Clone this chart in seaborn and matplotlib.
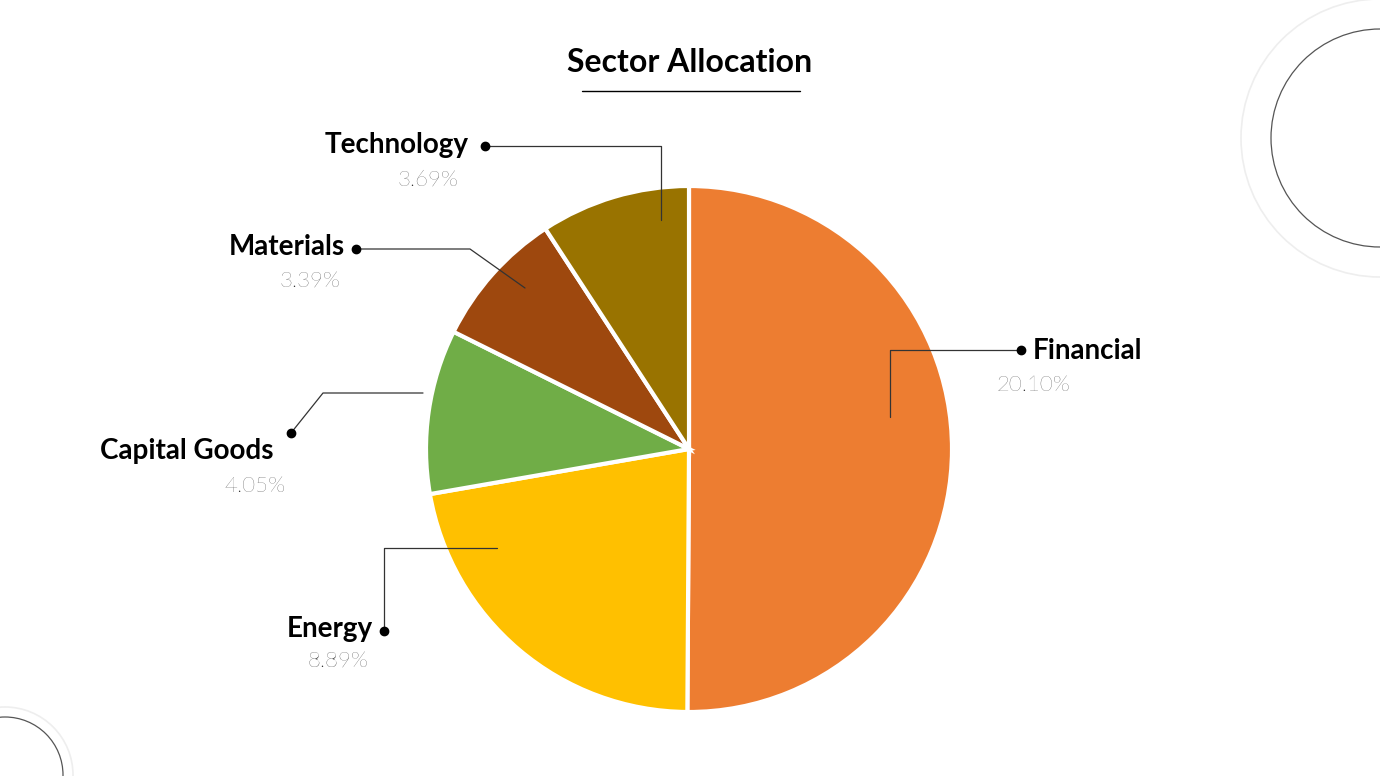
import matplotlib
matplotlib.use("Agg")
import matplotlib.pyplot as plt
import seaborn as sns
from matplotlib.patches import Circle
import numpy as np

categories = ["Financial", "Energy", "Capital Goods", "Materials", "Technology"]
values = [20.10, 8.89, 4.05, 3.39, 3.69]
pct_labels = ["20.10%", "8.89%", "4.05%", "3.39%", "3.69%"]
colors = ["#ED7D31", "#FFC000", "#70AD47", "#9E480E", "#997300"]

sns.set_theme(style="white", font="Lato")
fig = plt.figure(figsize=(13.8, 7.76), dpi=100)
ax = fig.add_axes([0, 0, 1, 1])
ax.set_xlim(0, 1380); ax.set_ylim(776, 0); ax.set_aspect("equal"); ax.axis("off")

# decorative circles
ax.add_patch(Circle((1380, 138), 139, fill=False, ec="#eeeeee", lw=1.2))
ax.add_patch(Circle((1380, 138), 109, fill=False, ec="#555555", lw=0.9))
ax.add_patch(Circle((5, 775), 68, fill=False, ec="#eeeeee", lw=1.2))
ax.add_patch(Circle((5, 775), 58, fill=False, ec="#555555", lw=0.9))

ax.pie(values, colors=sns.color_palette(colors), startangle=-90, counterclock=True,
       center=(689, 449), radius=263, frame=True,
       wedgeprops=dict(edgecolor="white", linewidth=3))
ax.set_xlim(0, 1380); ax.set_ylim(776, 0); ax.axis("off")

ax.text(690, 63, "Sector Allocation", ha="center", va="center", fontsize=23, fontweight="bold", color="black")
ax.plot([582, 800], [91, 91], color="black", lw=1)

# leader layout: polyline points (last = dot), label pos, alignment, pct pos
layout = {
    "Financial": ([(890, 417), (890, 350), (1021, 350)], (1033, 351), "left", (1033, 385)),
    "Energy": ([(497, 548), (384, 548), (384, 631)], (373, 629), "right", (338, 662)),
    "Capital Goods": ([(423, 393), (323, 393), (291, 433)], (187, 451), "center", (255, 486)),
    "Materials": ([(525, 288), (470, 250), (356, 249)], (345, 247), "right", (310, 282)),
    "Technology": ([(661, 220), (661, 146), (485, 146)], (469, 145), "right", (428, 180)),
}
layout["Materials"] = ([(525, 288), (470, 249), (356, 249)], (345, 247), "right", (310, 282))
for cat, pct in zip(categories, pct_labels):
    pts, lp, ha, pp = layout[cat]
    xs, ys = zip(*pts)
    ax.plot(xs, ys, color="#333333", lw=0.9)
    ax.plot(xs[-1], ys[-1], "o", color="black", ms=6)
    ax.text(lp[0], lp[1], cat, ha=ha, va="center", fontsize=20, fontweight="bold", color="black")
    ax.text(pp[0], pp[1], pct, ha="center", va="center", fontsize=16, fontweight="light", color="#222222")

fig.savefig("out.png", dpi=100, facecolor="white")
